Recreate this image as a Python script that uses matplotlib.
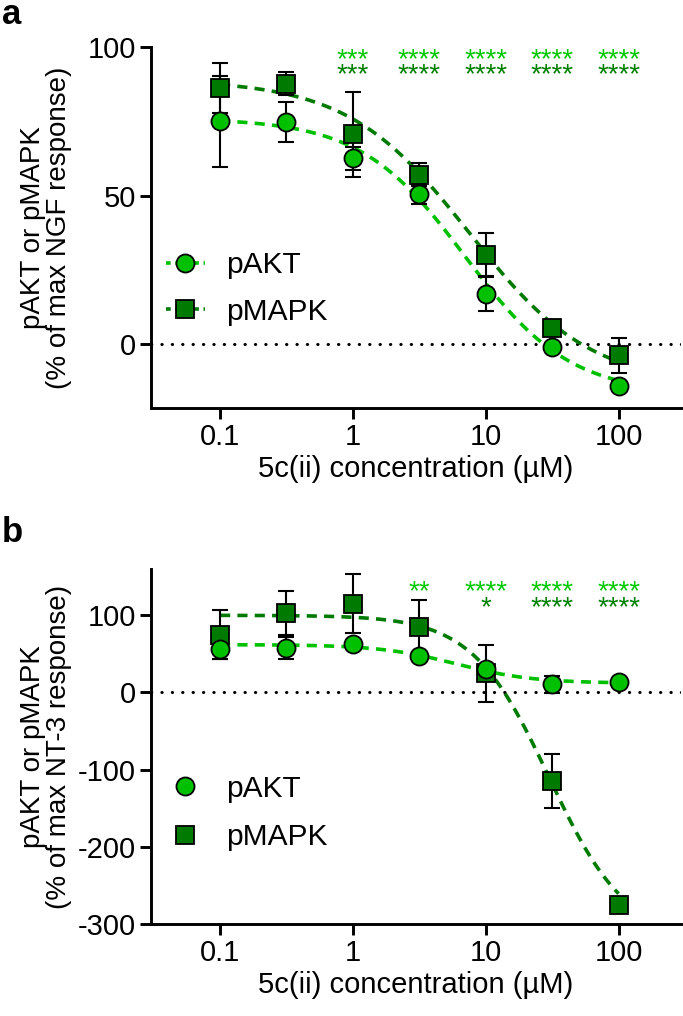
import numpy as np
import matplotlib
matplotlib.use("Agg")
import matplotlib.pyplot as plt
from matplotlib.lines import Line2D

plt.rcParams['font.family'] = ['Liberation Sans', 'DejaVu Sans']

# ---------------- data ----------------
conc = [0.1, 0.316, 1, 3.16, 10, 31.6, 100]
xticks = [0.1, 1, 10, 100]
xticklabels = ["0.1", "1", "10", "100"]

# panel a (NGF)
a_pakt = [75.0, 74.7, 62.5, 50.5, 17.0, -1.0, -14.0]
a_pakt_err = [15.3, 6.8, 3.9, 3.2, 5.8, 1.5, 1.5]
a_pmapk = [86.2, 87.7, 70.7, 57.0, 30.0, 5.5, -3.8]
a_pmapk_err = [8.5, 4.0, 14.3, 3.8, 7.5, 1.5, 5.8]
# 4PL fit parameters: top, bottom, IC50, hill
a_pakt_fit = (76, -17, 7.0, 1.1)
a_pmapk_fit = (89, -14, 7.5, 0.95)
a_yticks = [0, 50, 100]
a_stars_x = [1, 3.16, 10, 31.6, 100]
a_stars_pakt = ["***", "****", "****", "****", "****"]
a_stars_pmapk = ["***", "****", "****", "****", "****"]

# panel b (NT-3)
b_pakt = [56.5, 57.5, 62.7, 47.0, 31.0, 10.5, 13.5]
b_pakt_err = [13, 14, 3, 3, 3, 11, 3]
b_pmapk = [75, 103, 115, 85, 25, -115, -276]
b_pmapk_err = [32, 29, 38, 35, 37, 35, 3]
b_pakt_fit = (62, 12, 6.0, 1.5)
b_pmapk_fit = (100, -320, 30.0, 1.5)
b_yticks = [-300, -200, -100, 0, 100]
b_stars_x = [3.16, 10, 31.6, 100]
b_stars_pakt = ["**", "****", "****", "****"]
b_stars_pmapk = ["", "*", "****", "****"]

c_light = "#00C000"
c_dark = "#007A00"
star_light = "#00C800"
star_dark = "#008000"


def fourpl(x, p):
    top, bot, ic50, h = p
    return bot + (top - bot) / (1 + (x / ic50) ** h)


W, H = 683, 1016
fig = plt.figure(figsize=(W / 100, H / 100), dpi=100)
FS = 21


def ax_rect(l, t, r, b):
    return [l / W, 1 - b / H, (r - l) / W, (b - t) / H]


def style_axes(ax, ylim, yticks, ylabel2):
    ax.set_xscale('log')
    ax.set_xlim(10 ** -1.52, 10 ** 2.47)
    ax.set_ylim(*ylim)
    ax.set_xticks(xticks)
    ax.set_xticklabels(xticklabels)
    ax.xaxis.set_minor_locator(matplotlib.ticker.NullLocator())
    ax.set_yticks(yticks)
    ax.set_yticklabels([str(t) for t in yticks])
    for s in ['top', 'right']:
        ax.spines[s].set_visible(False)
    for s in ['left', 'bottom']:
        ax.spines[s].set_linewidth(2.1)
    ax.tick_params(axis='both', width=2.1, length=8, labelsize=FS, pad=3)
    ax.set_xlabel("5c(ii) concentration (µM)", fontsize=FS, labelpad=3)
    ax.set_ylabel("pAKT or pMAPK\n" + ylabel2, fontsize=20, linespacing=1.0)
    ax.yaxis.set_label_coords(-0.15, 0.5)
    ax.axhline(0, color='black', lw=2.2, ls=(0, (0.1, 3.3)), dash_capstyle='round', zorder=1)


def draw_panel(ax, pakt, pakt_err, pmapk, pmapk_err, fit_pakt, fit_pmapk):
    xs = np.logspace(-1, 2, 300)
    ax.plot(xs, fourpl(xs, fit_pmapk), color=c_dark, lw=2.6, ls=(0, (2.8, 2.0)), zorder=2)
    ax.plot(xs, fourpl(xs, fit_pakt), color=c_light, lw=2.6, ls=(0, (2.8, 2.0)), zorder=2)
    ax.errorbar(conc, pmapk, yerr=pmapk_err, fmt='none', ecolor='black', elinewidth=1.5,
                capsize=6, capthick=1.5, zorder=3)
    ax.errorbar(conc, pakt, yerr=pakt_err, fmt='none', ecolor='black', elinewidth=1.5,
                capsize=6, capthick=1.5, zorder=3)
    ax.plot(conc, pmapk, ls='none', marker='s', ms=13, mfc=c_dark, mec='black', mew=1.3, zorder=4)
    ax.plot(conc, pakt, ls='none', marker='o', ms=13, mfc=c_light, mec='black', mew=1.3, zorder=5)


def add_legend(ax, handles, ycen_px, hl, spacing):
    ax.legend(handles, ["pAKT", "pMAPK"], loc='center left',
              bbox_to_anchor=(166 / W, 1 - ycen_px / H), bbox_transform=fig.transFigure,
              frameon=False, fontsize=21.5, handlelength=hl, handletextpad=0.7,
              labelspacing=spacing, borderpad=0, borderaxespad=0)


# ---------- panel a ----------
axa = fig.add_axes(ax_rect(151, 47, 681, 408))
style_axes(axa, (-21.5, 100), a_yticks, "(% of max NGF response)")
draw_panel(axa, a_pakt, a_pakt_err, a_pmapk, a_pmapk_err, a_pakt_fit, a_pmapk_fit)
for x, s1, s2 in zip(a_stars_x, a_stars_pakt, a_stars_pmapk):
    axa.text(x, 93.1, s1, color=star_light, fontsize=20, ha='center', va='baseline', clip_on=False)
    axa.text(x, 88.1, s2, color=star_dark, fontsize=20, ha='center', va='baseline', clip_on=False)
ha = [Line2D([], [], color=c_light, lw=2.6, ls=(0, (1.3, 1.3)), marker='o', ms=13, mfc=c_light, mec='black', mew=1.3),
      Line2D([], [], color=c_dark, lw=2.6, ls=(0, (1.3, 1.3)), marker='s', ms=13, mfc=c_dark, mec='black', mew=1.3)]
add_legend(axa, ha, 288.5, 1.3, 0.62)
fig.text(2 / W, 1 - 14 / H, "a", fontsize=25, fontweight='bold', va='center', ha='left')

# ---------- panel b ----------
axb = fig.add_axes(ax_rect(151, 569, 681, 924))
style_axes(axb, (-300, 160), b_yticks, "(% of max NT-3 response)")
draw_panel(axb, b_pakt, b_pakt_err, b_pmapk, b_pmapk_err, b_pakt_fit, b_pmapk_fit)
for x, s1, s2 in zip(b_stars_x, b_stars_pakt, b_stars_pmapk):
    axb.text(x, 120.4, s1, color=star_light, fontsize=20, ha='center', va='baseline', clip_on=False)
    if s2:
        axb.text(x, 100.4, s2, color=star_dark, fontsize=20, ha='center', va='baseline', clip_on=False)
hb = [Line2D([], [], ls='none', marker='o', ms=13, mfc=c_light, mec='black', mew=1.3),
      Line2D([], [], ls='none', marker='s', ms=13, mfc=c_dark, mec='black', mew=1.3)]
add_legend(axb, hb, 813, 1.3, 0.68)
fig.text(2 / W, 1 - 533 / H, "b", fontsize=25, fontweight='bold', va='center', ha='left')

fig.savefig("out.png", dpi=100)
